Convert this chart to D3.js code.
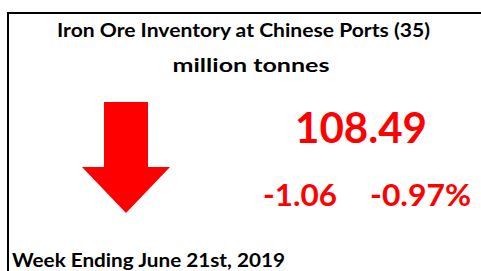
<!DOCTYPE html>
<html lang="en">
<head>
<meta charset="UTF-8">
<title>Iron Ore Inventory</title>
<script src="https://cdn.jsdelivr.net/npm/d3@7"></script>
<style>
    body { margin:0; background:#fff; }
    svg text { font-family: Lato, "Open Sans", sans-serif; font-weight:bold; }
</style>
</head>
<body>
<svg width="481" height="271"></svg>
<script>
    // data
    var titleLines = ["Iron Ore Inventory at Chinese Ports (35)", "million tonnes"];
    var inventory = [108.49];
    var change = [-1.06];
    var changePct = [-0.97];
    var weekLabel = ["Week Ending June 21st, 2019"];

    var width = 481, height = 271;
    var red = "#ff0000";

    var svg = d3.select("svg")
        .attr("width", width)
        .attr("height", height);

    // frame: top + left only
    svg.append("path")
        .attr("d", "M8,271 L8,13 L481,13")
        .attr("fill", "none")
        .attr("stroke", "#000")
        .attr("stroke-width", 2);

    // title
    svg.selectAll("text.title")
        .data(titleLines)
        .enter()
        .append("text")
        .attr("class", "title")
        .attr("x", function (d, i) { return i == 0 ? 243.5 : 251; })
        .attr("y", function (d, i) { return i == 0 ? 37 : 72; })
        .attr("text-anchor", "middle")
        .attr("font-size", 18.5)
        .attr("textLength", function (d, i) { return i == 0 ? 373 : 157; })
        .attr("lengthAdjust", "spacingAndGlyphs")
        .attr("fill", "#000")
        .text(function (d) { return d; });

    // arrow, in unit coords scaled to its box
    var ax = d3.scaleLinear().domain([-1, 1]).range([82, 170]);
    var ay = d3.scaleLinear().domain([0, 1]).range([102, 213]);
    var dir = change[0] < 0 ? 1 : -1;
    var shaft = 0.5;   // half width of shaft, unit
    var headY = 0.586; // where head starts
    var pts = [
        [-shaft, 0], [shaft, 0], [shaft, headY], [1, headY],
        [0, 1], [-1, headY], [-shaft, headY]
    ];
    if (dir < 0) pts = pts.map(function (p) { return [p[0], 1 - p[1]]; });
    svg.append("path")
        .attr("d", d3.line().x(function (p) { return ax(p[0]); }).y(function (p) { return ay(p[1]); })(pts) + "Z")
        .attr("fill", red);

    // value
    svg.selectAll("text.value")
        .data(inventory)
        .enter()
        .append("text")
        .attr("class", "value")
        .attr("x", 361)
        .attr("y", 143)
        .attr("text-anchor", "middle")
        .attr("font-size", 42)
        .attr("textLength", 132)
        .attr("lengthAdjust", "spacingAndGlyphs")
        .attr("fill", red)
        .text(function (d) { return d3.format(".2f")(d); });

    svg.selectAll("text.chg")
        .data(change)
        .enter()
        .append("text")
        .attr("class", "chg")
        .attr("x", 300)
        .attr("y", 206)
        .attr("text-anchor", "middle")
        .attr("font-size", 30)
        .attr("textLength", 74)
        .attr("lengthAdjust", "spacingAndGlyphs")
        .attr("fill", red)
        .text(function (d) { return d3.format(".2f")(d).replace("−", "-"); });

    svg.selectAll("text.pct")
        .data(changePct)
        .enter()
        .append("text")
        .attr("class", "pct")
        .attr("x", 420.5)
        .attr("y", 206)
        .attr("text-anchor", "middle")
        .attr("font-size", 30)
        .attr("textLength", 101)
        .attr("lengthAdjust", "spacingAndGlyphs")
        .attr("fill", red)
        .text(function (d) { return d3.format(".2f")(d).replace("−", "-") + "%"; });

    // footer
    svg.selectAll("text.week")
        .data(weekLabel)
        .enter()
        .append("text")
        .attr("class", "week")
        .attr("x", 12)
        .attr("y", 267)
        .attr("font-size", 18.5)
        .attr("textLength", 273)
        .attr("lengthAdjust", "spacingAndGlyphs")
        .attr("fill", "#000")
        .text(function (d) { return d; });
</script>
</body>
</html>
